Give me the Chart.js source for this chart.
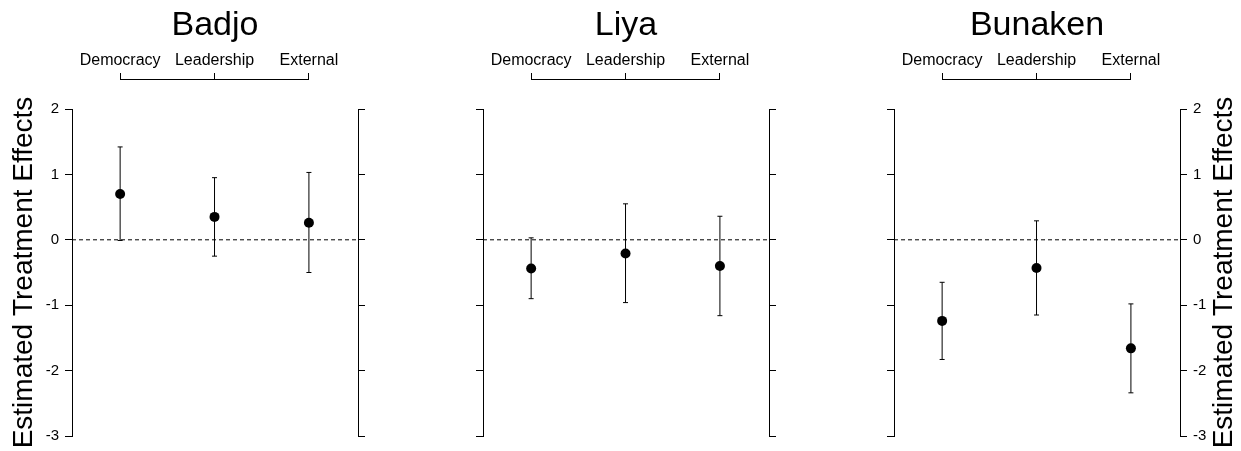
<!DOCTYPE html>
<html>
<head>
<meta charset="utf-8">
<script src="https://cdn.jsdelivr.net/npm/chart.js@4.4.1/dist/chart.umd.min.js"></script>
<style>
  html, body { margin: 0; padding: 0; background: #fff; }
  body { width: 1241px; height: 451px; position: relative; overflow: hidden; }
  canvas { position: absolute; top: 0; }
</style>
</head>
<body>
<canvas id="badjo" width="430" height="451" style="left:0px"></canvas>
<canvas id="liya" width="386" height="451" style="left:433px"></canvas>
<canvas id="bunaken" width="408" height="451" style="left:833px"></canvas>
<script>
// data
const sites = ['Badjo', 'Liya', 'Bunaken'];
const categories = ['Democracy', 'Leadership', 'External'];
const yTicks = [-3, -2, -1, 0, 1, 2];
const yTitle = 'Estimated Treatment Effects';

const badjoEst = [0.70, 0.35, 0.26];
const badjoLow = [-0.01, -0.25, -0.50];
const badjoHigh = [1.42, 0.95, 1.03];

const liyaEst = [-0.44, -0.21, -0.40];
const liyaLow = [-0.90, -0.96, -1.16];
const liyaHigh = [0.03, 0.55, 0.36];

const bunakenEst = [-1.24, -0.43, -1.66];
const bunakenLow = [-1.83, -1.15, -2.34];
const bunakenHigh = [-0.65, 0.29, -0.98];

const xMin = 0.49, xMax = 3.52;
const FONT = "'Liberation Sans', Arial, Helvetica, sans-serif";

Chart.defaults.font.family = FONT;
Chart.defaults.color = '#000';

// horizontal line of the top bracket, from first to last category
const bracketLine = {
    id: 'bracketLine',
    afterDraw(chart) {
        const s = chart.scales.xTop;
        const ctx = chart.ctx;
        const y = Math.round(s.bottom) - 0.5;
        const x1 = Math.floor(s.getPixelForValue(1));
        const x2 = Math.floor(s.getPixelForValue(categories.length)) + 1;
        ctx.save();
        ctx.strokeStyle = '#000';
        ctx.lineWidth = 1;
        ctx.beginPath();
        ctx.moveTo(x1, y);
        ctx.lineTo(x2, y);
        ctx.stroke();
        ctx.restore();
    }
};

// right-hand axis title, reading upwards like the left one
const rightTitle = {
    id: 'rightTitle',
    afterDraw(chart, args, opts) {
        if (!opts.text) return;
        const s = chart.scales.y2;
        const ctx = chart.ctx;
        ctx.save();
        ctx.font = '28px ' + FONT;
        ctx.fillStyle = '#000';
        ctx.textAlign = 'center';
        ctx.textBaseline = 'middle';
        ctx.translate(s.right - 16.8, (s.top + s.bottom) / 2);
        ctx.rotate(-Math.PI / 2);
        ctx.fillText(opts.text, 0, 0);
        ctx.restore();
    }
};

function yAxis(position, width, showLabels, showTitle) {
    return {
        type: 'linear',
        position: position,
        min: -3,
        max: 2,
        afterBuildTicks: s => { s.ticks = yTicks.map(v => ({ value: v })); },
        ticks: { display: showLabels, font: { size: 15 }, color: '#000', padding: 6 },
        grid: { drawOnChartArea: false, tickLength: 7, tickColor: '#000', tickWidth: 1 },
        border: { display: true, color: '#000', width: 1 },
        title: {
            display: showTitle,
            text: yTitle,
            font: { size: 28 },
            color: '#000',
            padding: { top: 7, bottom: 0 }
        },
        afterFit: s => { s.width = width; }
    };
}

function makePanel(id, site, est, low, high, leftW, rightW, leftLabels, rightLabels) {
    const datasets = [{
        data: est.map((v, i) => ({ x: i + 1, y: v })),
        pointRadius: 5,
        pointBackgroundColor: '#000',
        pointBorderWidth: 0,
        showLine: false
    }];
    est.forEach((v, i) => {
        datasets.push({
            data: [{ x: i + 1, y: low[i] }, { x: i + 1, y: high[i] }],
            showLine: true,
            borderColor: '#000',
            borderWidth: 1,
            pointStyle: 'line',
            pointRadius: 2.5,
            pointBorderColor: '#000',
            pointBorderWidth: 1
        });
    });
    // dashed reference line at zero
    datasets.push({
        data: [{ x: xMin, y: 0 }, { x: xMax, y: 0 }],
        showLine: true,
        borderColor: '#000',
        borderWidth: 1,
        borderDash: [4, 3],
        pointRadius: 0
    });

    return new Chart(document.getElementById(id), {
        type: 'scatter',
        data: { datasets },
        options: {
            responsive: false,
            animation: false,
            events: [],
            layout: { padding: { top: 0, left: 0, right: 0, bottom: 15 } },
            scales: {
                x: { type: 'linear', display: false, min: xMin, max: xMax },
                xTop: {
                    type: 'linear',
                    position: 'top',
                    min: xMin,
                    max: xMax,
                    weight: 1,
                    afterBuildTicks: s => { s.ticks = categories.map((c, i) => ({ value: i + 1 })); },
                    ticks: {
                        autoSkip: false,
                        maxRotation: 0,
                        font: { size: 16 },
                        color: '#000',
                        padding: 3,
                        callback: v => categories[v - 1]
                    },
                    grid: { drawOnChartArea: false, tickLength: 7, tickColor: '#000' },
                    border: { display: false },
                    afterFit: s => { s.height = 80 - 45.8; }
                },
                xGap: {
                    type: 'linear',
                    position: 'top',
                    min: xMin,
                    max: xMax,
                    weight: 0,
                    ticks: { display: false },
                    grid: { display: false, drawTicks: false },
                    border: { display: false },
                    afterFit: s => { s.height = 29; }
                },
                y: yAxis('left', leftW, leftLabels, leftLabels),
                y2: yAxis('right', rightW, rightLabels, false)
            },
            plugins: {
                legend: { display: false },
                tooltip: { enabled: false },
                title: {
                    display: true,
                    text: site,
                    font: { size: 34, weight: 'normal' },
                    color: '#000',
                    padding: { top: 5, bottom: 0 }
                },
                rightTitle: { text: rightLabels ? yTitle : '' }
            }
        },
        plugins: [bracketLine, rightTitle]
    });
}

makePanel('badjo', sites[0], badjoEst, badjoLow, badjoHigh, 72, 72, true, false);
makePanel('liya', sites[1], liyaEst, liyaLow, liyaHigh, 50, 50, false, false);
makePanel('bunaken', sites[2], bunakenEst, bunakenLow, bunakenHigh, 61, 61, false, true);
</script>
</body>
</html>
